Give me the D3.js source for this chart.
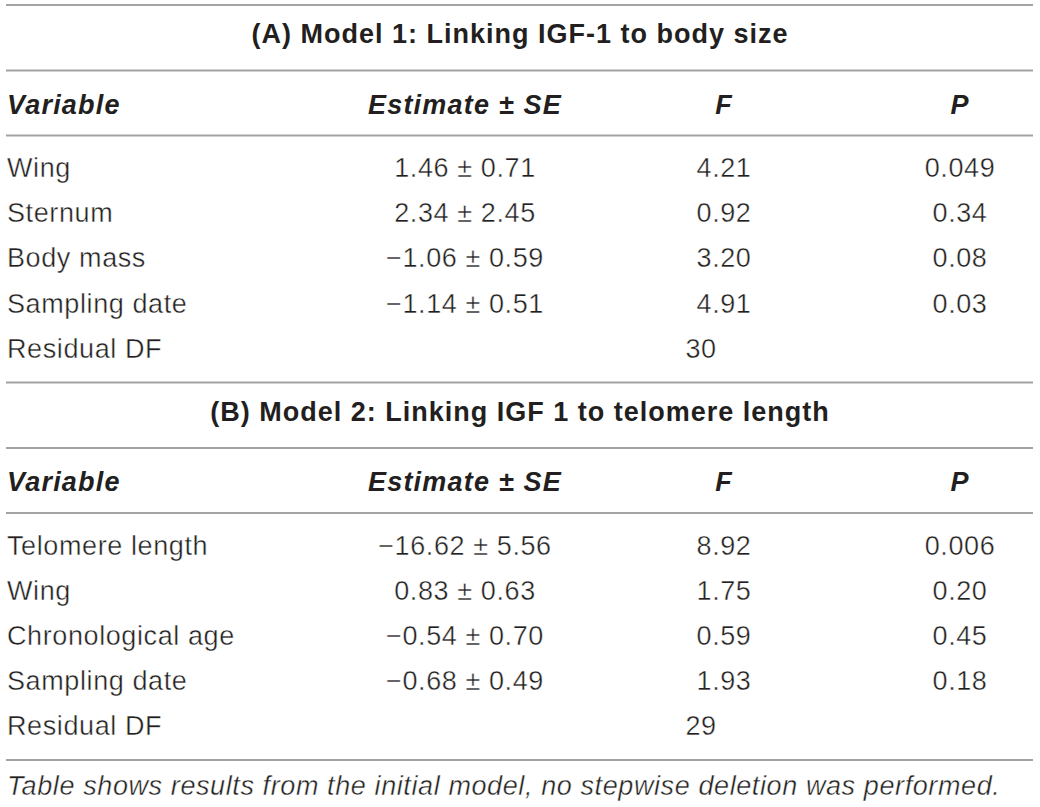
<!DOCTYPE html>
<html>
<head>
<meta charset="utf-8">
<script src="https://cdn.jsdelivr.net/npm/d3@7"></script>
<style>
  body { margin: 0; background: #fff; }
  text { fill: #231f20; font-family: "Liberation Sans", Arial, sans-serif; }
  .light { font-weight: 400; stroke: #fff; stroke-width: 0.4px; letter-spacing: 0.6px; }
  .bold { font-weight: 700; letter-spacing: 1px; }
  .bi { font-weight: 700; font-style: italic; letter-spacing: 1.2px; }
</style>
</head>
<body>
<div id="main"></div>
<script>
// dados da tabela
const headers = ['Variable', 'Estimate \u00b1 SE', 'F', 'P'];

const titleA = '(A) Model 1: Linking IGF-1 to body size';
const varsA = ['Wing', 'Sternum', 'Body mass', 'Sampling date'];
const estA = ['1.46 \u00b1 0.71', '2.34 \u00b1 2.45', '\u22121.06 \u00b1 0.59', '\u22121.14 \u00b1 0.51'];
const fA = ['4.21', '0.92', '3.20', '4.91'];
const pA = ['0.049', '0.34', '0.08', '0.03'];
const dfA = '30';

const titleB = '(B) Model 2: Linking IGF 1 to telomere length';
const varsB = ['Telomere length', 'Wing', 'Chronological age', 'Sampling date'];
const estB = ['\u221216.62 \u00b1 5.56', '0.83 \u00b1 0.63', '\u22120.54 \u00b1 0.70', '\u22120.68 \u00b1 0.49'];
const fB = ['8.92', '1.75', '0.59', '1.93'];
const pB = ['0.006', '0.20', '0.45', '0.18'];
const dfB = '29';

const footnote = 'Table shows results from the initial model, no stepwise deletion was performed.';

const width = 1040, height = 807;
const left = 6, right = 1033;
const fontSize = 27;

const svg = d3.select('#main')
  .append('svg')
  .attr('width', width)
  .attr('height', height);

// colunas: esquerda para a variável, centro para o resto
const colX = d3.scaleOrdinal()
  .domain(['var', 'est', 'f', 'p', 'df'])
  .range([7, 465, 724, 960, 701]);

const rule = (y) => svg.append('line')
  .attr('x1', left).attr('x2', right)
  .attr('y1', y).attr('y2', y)
  .attr('stroke', '#a3a3a3')
  .attr('stroke-width', 2);

function section(top, title, vars, est, f, p, df) {
  const line2 = top + 65.5;
  const line3 = line2 + 65;
  rule(top);
  rule(line2);
  rule(line3);

  svg.append('text')
    .attr('class', 'bold')
    .attr('x', width / 2)
    .attr('y', top + 38)
    .attr('text-anchor', 'middle')
    .attr('font-size', fontSize)
    .text(title);

  const hy = line2 + 43;
  const hcols = ['var', 'est', 'f', 'p'];
  svg.append('g').selectAll('text')
    .data(headers)
    .enter()
    .append('text')
    .attr('class', 'bi')
    .attr('x', (d, i) => colX(hcols[i]))
    .attr('y', hy)
    .attr('text-anchor', (d, i) => i == 0 ? 'start' : 'middle')
    .attr('font-size', fontSize)
    .text(d => d);

  const rowY = d3.scaleLinear().domain([0, 1]).range([line3 + 41.5, line3 + 41.5 + 45.2]);
  const rows = vars.map((v, i) => ({v: v, e: est[i], f: f[i], p: p[i], i: i}));
  rows.push({v: 'Residual DF', df: df, i: vars.length});

  const g = svg.append('g').selectAll('g')
    .data(rows)
    .enter()
    .append('g')
    .attr('transform', d => `translate(0,${rowY(d.i)})`);

  g.append('text').attr('class', 'light').attr('x', colX('var'))
    .attr('font-size', fontSize).text(d => d.v);
  g.filter(d => d.e).append('text').attr('class', 'light').attr('x', colX('est'))
    .attr('text-anchor', 'middle').attr('font-size', fontSize).text(d => d.e);
  g.filter(d => d.f).append('text').attr('class', 'light').attr('x', colX('f'))
    .attr('text-anchor', 'middle').attr('font-size', fontSize).text(d => d.f);
  g.filter(d => d.p).append('text').attr('class', 'light').attr('x', colX('p'))
    .attr('text-anchor', 'middle').attr('font-size', fontSize).text(d => d.p);
  g.filter(d => d.df).append('text').attr('class', 'light').attr('x', colX('df'))
    .attr('text-anchor', 'middle').attr('font-size', fontSize).text(d => d.df);
}

section(5, titleA, varsA, estA, fA, pA, dfA);
section(382.5, titleB, varsB, estB, fB, pB, dfB);
rule(760);

svg.append('text')
  .attr('class', 'light')
  .attr('x', 7)
  .attr('y', 795)
  .attr('font-size', 27)
  .attr('font-style', 'italic')
  .text(footnote);
</script>
</body>
</html>
